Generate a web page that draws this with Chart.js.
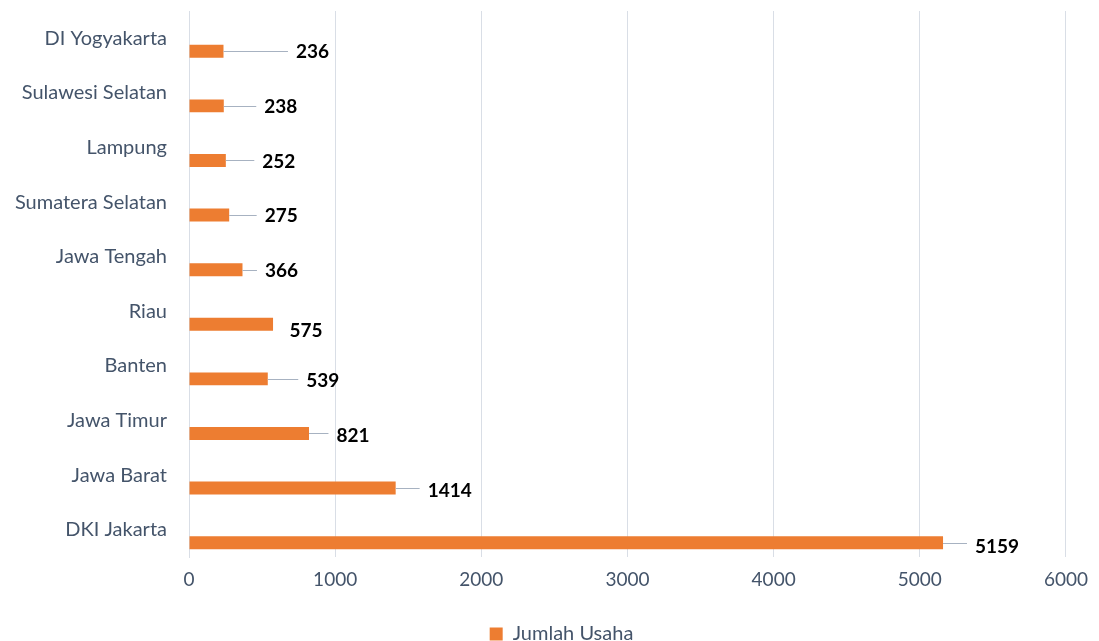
<!DOCTYPE html>
<html>
<head>
<meta charset="utf-8">
<script src="https://cdn.jsdelivr.net/npm/chart.js@4/dist/chart.umd.min.js"></script>
<style>
  html, body { margin: 0; padding: 0; background: #fff; overflow: hidden; }
  #frame { width: 1099px; height: 641px; overflow: hidden; position: relative; }
  #box { width: 1099px; height: 660px; position: absolute; left: 0; top: 0; }
</style>
</head>
<body>
<div id="frame"><div id="box"><canvas id="chart"></canvas></div></div>
<script>
  // provinsi, urut dari atas ke bawah
  var provinces = [
    "DI Yogyakarta", "Sulawesi Selatan", "Lampung", "Sumatera Selatan", "Jawa Tengah",
    "Riau", "Banten", "Jawa Timur", "Jawa Barat", "DKI Jakarta"
  ];
  var jumlahUsaha = [236, 238, 252, 275, 366, 575, 539, 821, 1414, 5159];
  var xTicks = [0, 1000, 2000, 3000, 4000, 5000, 6000];

  // geser label data (px) dari ujung batang, seperti label yang dipindah di Excel
  var labelShiftX = [89, 57, 53, 52, 39, 33, 55, 44, 54, 54];
  var labelShiftY = [0, 0, 0, 0, 0, 6, 1, 1, 2, 3];

  var FONT = "Lato, 'Open Sans', sans-serif";
  var GRID = "#d9dee6";
  var TEXT = "#44546a";

  var leaderLabels = {
    id: "leaderLabels",
    afterDatasetsDraw: function (chart) {
      var meta = chart.getDatasetMeta(1);
      var ctx = chart.ctx;
      ctx.save();
      ctx.font = "bold 19px " + FONT;
      ctx.textAlign = "center";
      ctx.textBaseline = "middle";
      meta.data.forEach(function (bar, i) {
        var txt = String(jumlahUsaha[i]);
        var cx = bar.x + labelShiftX[i];
        var cy = bar.y + labelShiftY[i];
        var w = ctx.measureText(txt).width;
        var lineEnd = cx - w / 2 - 8;
        if (lineEnd - bar.x > 10) {
          ctx.strokeStyle = "#a7b2c1";
          ctx.lineWidth = 1;
          ctx.beginPath();
          ctx.moveTo(bar.x, Math.round(bar.y) + 0.5);
          ctx.lineTo(lineEnd, Math.round(bar.y) + 0.5);
          ctx.stroke();
        }
        ctx.fillStyle = "#000";
        ctx.fillText(txt, cx, cy + 1);
      });
      ctx.restore();
    }
  };

  // legenda sedikit ke kanan seperti di gambar asli
  var shiftLegend = {
    id: "shiftLegend",
    afterLayout: function (chart) {
      if (chart.legend) {
        chart.legend.left += 27;
        chart.legend.right += 27;
      }
    }
  };

  new Chart(document.getElementById("chart"), {
    type: "bar",
    data: {
      labels: provinces,
      datasets: [
        {
          label: "spacer",
          data: provinces.map(function () { return null; }),
          backgroundColor: "rgba(0,0,0,0)"
        },
        {
          label: "Jumlah Usaha",
          data: jumlahUsaha,
          backgroundColor: "#ed7d31"
        }
      ]
    },
    options: {
      indexAxis: "y",
      responsive: true,
      maintainAspectRatio: false,
      animation: false,
      categoryPercentage: 0.95,
      barPercentage: 0.5,
      layout: { padding: { top: 11, right: 30, left: 0, bottom: 6 } },
      plugins: {
        tooltip: { enabled: false },
        legend: {
          position: "bottom",
          labels: {
            boxWidth: 13,
            boxHeight: 13,
            padding: 10,
            color: TEXT,
            font: { family: FONT, size: 20 },
            filter: function (item) { return item.text !== "spacer"; }
          }
        }
      },
      scales: {
        x: {
          min: 0,
          max: 6000,
          afterBuildTicks: function (scale) {
            scale.ticks = xTicks.map(function (v) { return { value: v }; });
          },
          afterFit: function (scale) { scale.height = 57; },
          grid: { color: GRID, lineWidth: 1, drawTicks: false },
          border: { display: false },
          ticks: {
            color: TEXT,
            padding: 11,
            font: { family: FONT, size: 19 },
            callback: function (v) { return String(v); }
          }
        },
        y: {
          afterFit: function (scale) {
            scale.width = 189;
            scale.paddingTop = 0;
            scale.paddingBottom = 0;
          },
          grid: { display: false, drawTicks: false },
          border: { display: true, color: GRID, width: 1 },
          ticks: { color: TEXT, padding: 22, font: { family: FONT, size: 20 } }
        }
      }
    },
    plugins: [leaderLabels, shiftLegend]
  });
</script>
</body>
</html>
